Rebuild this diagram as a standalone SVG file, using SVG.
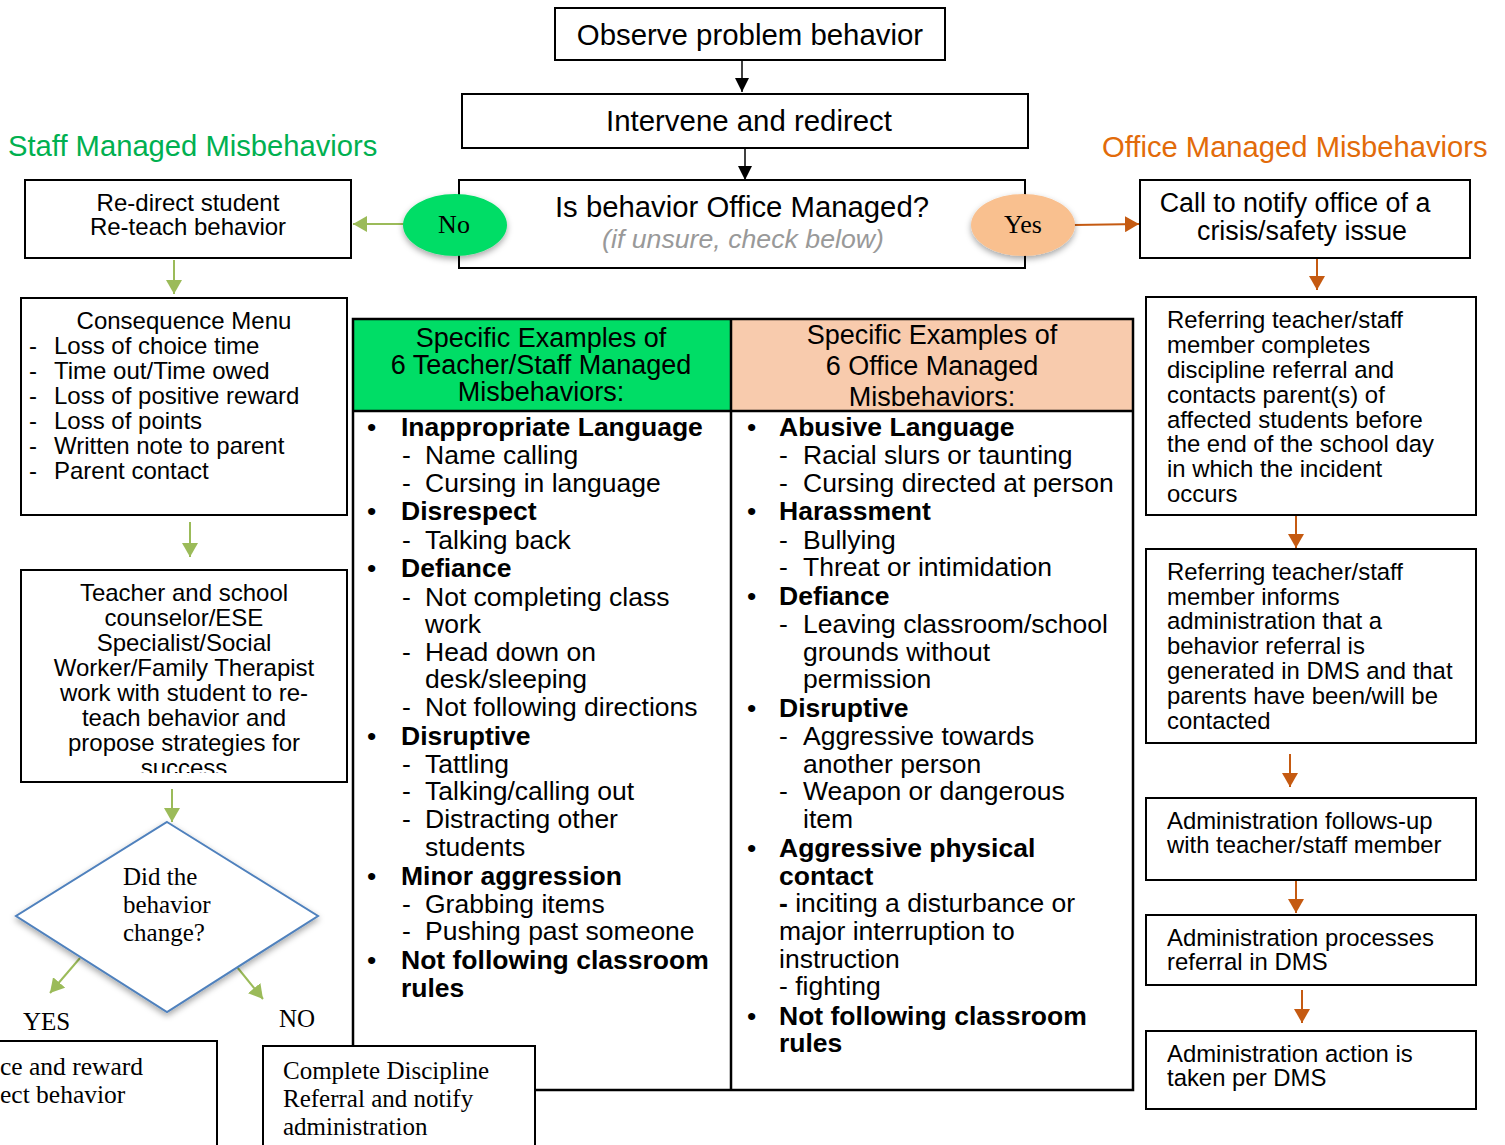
<svg xmlns="http://www.w3.org/2000/svg" width="1505" height="1145" viewBox="0 0 1505 1145">
<style>
.box{fill:#fff;stroke:#000;stroke-width:2}
.t{font-family:"Liberation Sans",Arial,sans-serif;fill:#000}
.s{font-family:"Liberation Serif","Times New Roman",serif;fill:#000}
.c{text-anchor:middle}
.g{stroke:#9BBB59;stroke-width:2;fill:none}
.o{stroke:#C55A11;stroke-width:2;fill:none}
.k{stroke:#000;stroke-width:1.5;fill:none}
.b{font-weight:bold}
</style>
<defs>
<marker id="ak" markerWidth="16" markerHeight="14" refX="14" refY="7" orient="auto" markerUnits="userSpaceOnUse"><path d="M0,0 L14,7 L0,14 Z" fill="#000"/></marker>
<marker id="ag" markerWidth="16" markerHeight="16" refX="14" refY="8" orient="auto" markerUnits="userSpaceOnUse"><path d="M0,0 L14,8 L0,16 Z" fill="#9BBB59"/></marker>
<marker id="ao" markerWidth="16" markerHeight="16" refX="14" refY="8" orient="auto" markerUnits="userSpaceOnUse"><path d="M0,0 L14,8 L0,16 Z" fill="#C55A11"/></marker>
<filter id="sh" x="-20%" y="-20%" width="140%" height="150%"><feDropShadow dx="0" dy="3" stdDeviation="3" flood-color="#000" flood-opacity="0.35"/></filter>
<clipPath id="clipT"><rect x="21" y="570" width="326" height="203"/></clipPath>
</defs>

<text class="t" x="8" y="156" font-size="29.2" style="fill:#00B050">Staff Managed Misbehaviors</text>
<text class="t" x="1102" y="157" font-size="29.2" style="fill:#E26B0A">Office Managed Misbehaviors</text>

<g id="connectors">
<line class="k" x1="742" y1="60" x2="742" y2="92" marker-end="url(#ak)"/>
<line class="k" x1="745" y1="148" x2="745" y2="180" marker-end="url(#ak)"/>
<line class="g" x1="404" y1="224" x2="353" y2="224" marker-end="url(#ag)"/>
<line class="o" x1="1074" y1="225" x2="1139" y2="224" marker-end="url(#ao)"/>
<line class="g" x1="174" y1="260" x2="174" y2="294" marker-end="url(#ag)"/>
<line class="g" x1="190" y1="522" x2="190" y2="557" marker-end="url(#ag)"/>
<line class="g" x1="172" y1="789" x2="172" y2="822" marker-end="url(#ag)"/>
<line class="g" x1="80" y1="958" x2="50" y2="993" marker-end="url(#ag)"/>
<line class="g" x1="237" y1="967" x2="263" y2="999" marker-end="url(#ag)"/>
<line class="o" x1="1317" y1="258" x2="1317" y2="290" marker-end="url(#ao)"/>
<line class="o" x1="1296" y1="515" x2="1296" y2="548" marker-end="url(#ao)"/>
<line class="o" x1="1290" y1="754" x2="1290" y2="787" marker-end="url(#ao)"/>
<line class="o" x1="1296" y1="880" x2="1296" y2="913" marker-end="url(#ao)"/>
<line class="o" x1="1302" y1="990" x2="1302" y2="1023" marker-end="url(#ao)"/>
</g>

<g id="observe">
<rect class="box" x="555" y="8" width="390" height="52"/>
<text class="t c" x="750" y="45" font-size="29.4">Observe problem behavior</text>
</g>
<g id="intervene">
<rect class="box" x="462" y="94" width="566" height="54"/>
<text class="t c" x="749" y="131" font-size="29.4">Intervene and redirect</text>
</g>
<g id="office-q">
<rect class="box" x="459" y="180" width="566" height="88"/>
<text class="t c" x="742" y="217" font-size="29.3">Is behavior Office Managed?</text>
<text class="t c" x="743" y="248" font-size="26.7" font-style="italic" style="fill:#999">(if unsure, check below)</text>
</g>
<g id="no">
<ellipse cx="455" cy="225" rx="52" ry="31" fill="#00DD66" filter="url(#sh)"/>
<text class="s c" x="454" y="233" font-size="26">No</text>
</g>
<g id="yes">
<ellipse cx="1023" cy="225" rx="52" ry="31" fill="#F9C08F" filter="url(#sh)"/>
<text class="s c" x="1023" y="233" font-size="26">Yes</text>
</g>

<g id="redirect">
<rect class="box" x="25" y="180" width="326" height="78"/>
<text class="t c" x="188" y="211" font-size="24">Re-direct student</text>
<text class="t c" x="188" y="235" font-size="24">Re-teach behavior</text>
</g>
<g id="consequence">
<rect class="box" x="21" y="298" width="326" height="217"/>
<text class="t c" x="184" y="329" font-size="24">Consequence Menu</text>
<g class="t" font-size="24">
<text x="29" y="354">-</text><text x="54" y="354">Loss of choice time</text>
<text x="29" y="379">-</text><text x="54" y="379">Time out/Time owed</text>
<text x="29" y="404">-</text><text x="54" y="404">Loss of positive reward</text>
<text x="29" y="429">-</text><text x="54" y="429">Loss of points</text>
<text x="29" y="454">-</text><text x="54" y="454">Written note to parent</text>
<text x="29" y="479">-</text><text x="54" y="479">Parent contact</text>
</g>
</g>
<g id="teacher">
<rect class="box" x="21" y="570" width="326" height="212"/>
<g class="t c" font-size="24" clip-path="url(#clipT)">
<text x="184" y="601">Teacher and school</text>
<text x="184" y="626">counselor/ESE</text>
<text x="184" y="651">Specialist/Social</text>
<text x="184" y="676">Worker/Family Therapist</text>
<text x="184" y="701">work with student to re-</text>
<text x="184" y="726">teach behavior and</text>
<text x="184" y="751">propose strategies for</text>
<text x="184" y="776">success</text>
</g>
</g>
<g id="decision">
<polygon points="167,822 318,916 167,1012 16,916" fill="#fff" stroke="#4F81BD" stroke-width="2" filter="url(#sh)"/>
<text class="s" x="123" y="885" font-size="25">Did the</text>
<text class="s" x="123" y="913" font-size="25">behavior</text>
<text class="s" x="123" y="941" font-size="25">change?</text>
</g>
<text class="s" x="23" y="1030" font-size="25">YES</text>
<text class="s" x="279" y="1027" font-size="25">NO</text>

<g id="table">
<rect x="353" y="319" width="378" height="92" fill="#00DD66"/>
<rect x="731" y="319" width="402" height="92" fill="#F8CBAD"/>
<rect x="353" y="319" width="780" height="771" fill="none" stroke="#000" stroke-width="2.5"/>
<line x1="353" y1="411" x2="1133" y2="411" stroke="#000" stroke-width="2.5"/>
<line x1="731" y1="319" x2="731" y2="1090" stroke="#000" stroke-width="2.5"/>
<g class="t c" font-size="27">
<text x="541" y="347">Specific Examples of</text>
<text x="541" y="374">6 Teacher/Staff Managed</text>
<text x="541" y="401">Misbehaviors:</text>
<text x="932" y="344">Specific Examples of</text>
<text x="932" y="375">6 Office Managed</text>
<text x="932" y="406">Misbehaviors:</text>
</g>
<g class="t" font-size="26.5">
<text x="367" y="436">•</text><text class="b" x="401" y="436">Inappropriate Language</text>
<text x="402" y="464">-</text><text x="425" y="464">Name calling</text>
<text x="402" y="492">-</text><text x="425" y="492">Cursing in language</text>
<text x="367" y="520">•</text><text class="b" x="401" y="520">Disrespect</text>
<text x="402" y="549">-</text><text x="425" y="549">Talking back</text>
<text x="367" y="577">•</text><text class="b" x="401" y="577">Defiance</text>
<text x="402" y="606">-</text><text x="425" y="606">Not completing class</text>
<text x="425" y="633">work</text>
<text x="402" y="661">-</text><text x="425" y="661">Head down on</text>
<text x="425" y="688">desk/sleeping</text>
<text x="402" y="716">-</text><text x="425" y="716">Not following directions</text>
<text x="367" y="745">•</text><text class="b" x="401" y="745">Disruptive</text>
<text x="402" y="773">-</text><text x="425" y="773">Tattling</text>
<text x="402" y="800">-</text><text x="425" y="800">Talking/calling out</text>
<text x="402" y="828">-</text><text x="425" y="828">Distracting other</text>
<text x="425" y="856">students</text>
<text x="367" y="885">•</text><text class="b" x="401" y="885">Minor aggression</text>
<text x="402" y="913">-</text><text x="425" y="913">Grabbing items</text>
<text x="402" y="940">-</text><text x="425" y="940">Pushing past someone</text>
<text x="367" y="969">•</text><text class="b" x="401" y="969">Not following classroom</text>
<text class="b" x="401" y="997">rules</text>

<text x="747" y="436">•</text><text class="b" x="779" y="436">Abusive Language</text>
<text x="779" y="464">-</text><text x="803" y="464">Racial slurs or taunting</text>
<text x="779" y="492">-</text><text x="803" y="492">Cursing directed at person</text>
<text x="747" y="520">•</text><text class="b" x="779" y="520">Harassment</text>
<text x="779" y="549">-</text><text x="803" y="549">Bullying</text>
<text x="779" y="576">-</text><text x="803" y="576">Threat or intimidation</text>
<text x="747" y="605">•</text><text class="b" x="779" y="605">Defiance</text>
<text x="779" y="633">-</text><text x="803" y="633">Leaving classroom/school</text>
<text x="803" y="661">grounds without</text>
<text x="803" y="688">permission</text>
<text x="747" y="717">•</text><text class="b" x="779" y="717">Disruptive</text>
<text x="779" y="745">-</text><text x="803" y="745">Aggressive towards</text>
<text x="803" y="773">another person</text>
<text x="779" y="800">-</text><text x="803" y="800">Weapon or dangerous</text>
<text x="803" y="828">item</text>
<text x="747" y="857">•</text><text class="b" x="779" y="857">Aggressive physical</text>
<text class="b" x="779" y="885">contact</text>
<text x="779" y="912"><tspan font-weight="bold">-</tspan> inciting a disturbance or</text>
<text x="779" y="940">major interruption to</text>
<text x="779" y="968">instruction</text>
<text x="779" y="995">- fighting</text>
<text x="747" y="1025">•</text><text class="b" x="779" y="1025">Not following classroom</text>
<text class="b" x="779" y="1052">rules</text>
</g>
</g>

<g id="praise">
<rect class="box" x="-10" y="1041" width="227" height="130"/>
<text class="s" x="0" y="1075" font-size="25.5">ce and reward</text>
<text class="s" x="0" y="1103" font-size="25.5">ect behavior</text>
</g>
<g id="complete">
<rect class="box" x="263" y="1046" width="272" height="120"/>
<text class="s" x="283" y="1079" font-size="25">Complete Discipline</text>
<text class="s" x="283" y="1107" font-size="25">Referral and notify</text>
<text class="s" x="283" y="1135" font-size="25">administration</text>
</g>

<g id="call">
<rect class="box" x="1140" y="180" width="330" height="78"/>
<text class="t c" x="1295" y="212" font-size="26.8">Call to notify office of a</text>
<text class="t c" x="1302" y="240" font-size="26.8">crisis/safety issue</text>
</g>
<g id="referring1">
<rect class="box" x="1146" y="297" width="330" height="218"/>
<g class="t" font-size="23.9">
<text x="1167" y="328">Referring teacher/staff</text>
<text x="1167" y="353">member completes</text>
<text x="1167" y="378">discipline referral and</text>
<text x="1167" y="403">contacts parent(s) of</text>
<text x="1167" y="428">affected students before</text>
<text x="1167" y="452">the end of the school day</text>
<text x="1167" y="477">in which the incident</text>
<text x="1167" y="502">occurs</text>
</g>
</g>
<g id="referring2">
<rect class="box" x="1146" y="549" width="330" height="194"/>
<g class="t" font-size="23.9">
<text x="1167" y="580">Referring teacher/staff</text>
<text x="1167" y="605">member informs</text>
<text x="1167" y="629">administration that a</text>
<text x="1167" y="654">behavior referral is</text>
<text x="1167" y="679">generated in DMS and that</text>
<text x="1167" y="704">parents have been/will be</text>
<text x="1167" y="729">contacted</text>
</g>
</g>
<g id="followup">
<rect class="box" x="1146" y="798" width="330" height="82"/>
<text class="t" x="1167" y="829" font-size="23.9">Administration follows-up</text>
<text class="t" x="1167" y="853" font-size="23.9">with teacher/staff member</text>
</g>
<g id="processes">
<rect class="box" x="1146" y="915" width="330" height="70"/>
<text class="t" x="1167" y="946" font-size="23.9">Administration processes</text>
<text class="t" x="1167" y="970" font-size="23.9">referral in DMS</text>
</g>
<g id="action">
<rect class="box" x="1146" y="1031" width="330" height="78"/>
<text class="t" x="1167" y="1062" font-size="23.9">Administration action is</text>
<text class="t" x="1167" y="1086" font-size="23.9">taken per DMS</text>
</g>
</svg>
